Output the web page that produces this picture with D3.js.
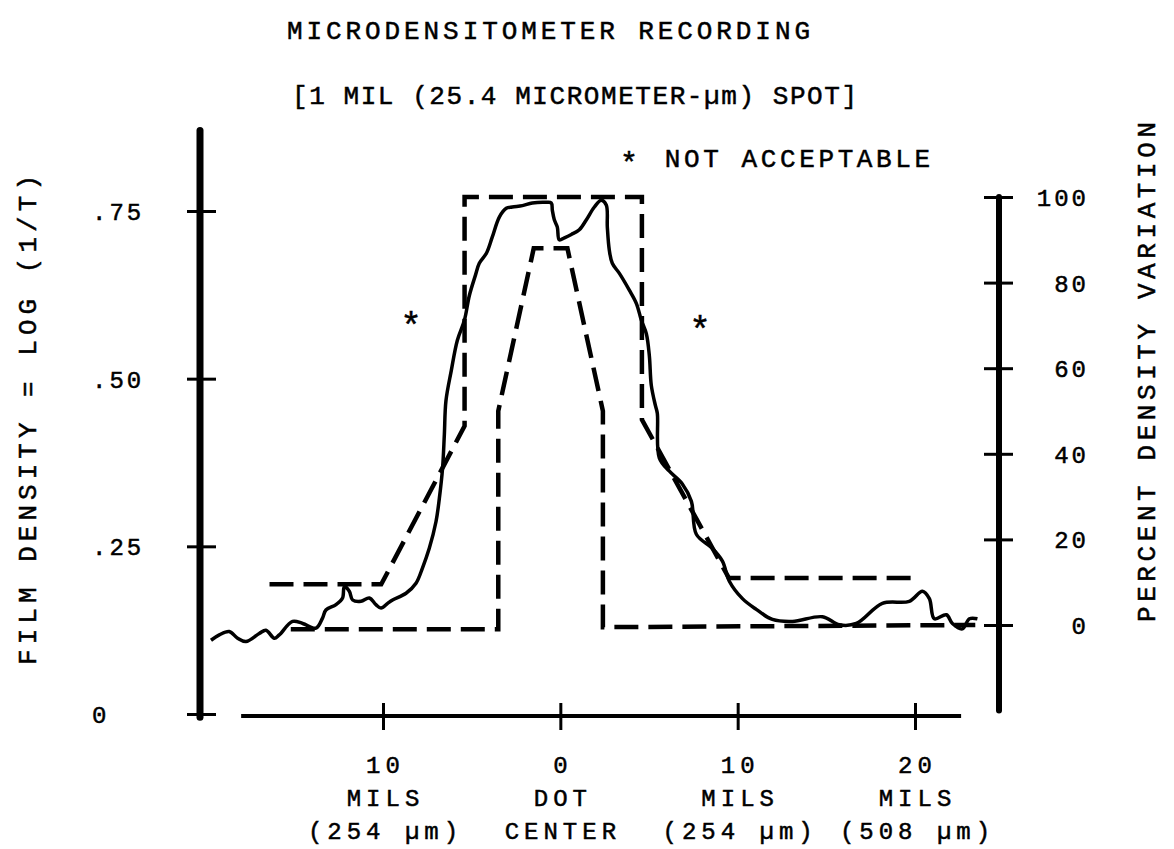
<!DOCTYPE html>
<html>
<head>
<meta charset="utf-8">
<script src="https://cdn.jsdelivr.net/npm/d3@7"></script>
<style>
body { margin: 0; background: #fff; }
text { font-family: "Liberation Mono", "DejaVu Sans Mono", monospace; fill: #000; stroke: #000; stroke-width: 0.5px; }
</style>
</head>
<body>
<script>
(function() {

    // microdensitometer trace: distance from dot center (mils, left negative) and film density
    var traceMils = [-19.7, -19.23, -18.67, -18.2, -17.73, -16.98, -16.6, -16.13, -15.85, -15.1, -14.53, -13.78,
        -13.41, -13.22, -12.65, -12.28, -12.18, -11.9, -11.71, -11.24, -10.77, -10.4, -10.11, -9.74, -9.46,
        -8.7, -8.14, -7.77, -7.39, -7.01, -6.82, -6.64, -6.54, -6.45, -6.15, -5.81, -5.41, -5.13, -4.79,
        -4.57, -4.17, -3.84, -3.44, -3.05, -2.71, -2.14, -1.58, -0.79, -0.51, -0.45, -0.34, -0.17, -0.06,
        0.23, 0.62, 1.07, 1.47, 1.92, 2.31, 2.59, 2.65, 2.76, 2.93, 3.33, 3.89, 4.29, 4.57, 4.85, 5.02,
        5.13, 5.36, 5.47, 5.58, 6.15, 6.88, 7.39, 7.67, 8.57, 9.14, 9.53, 10.27, 11.05, 11.96, 13.09,
        14.78, 15.74, 16.69, 18.16, 19.68, 20.42, 20.81, 21.09, 21.77, 22.11, 22.67, 23.07, 23.52];
    var traceDensity = [0.110, 0.118, 0.123, 0.113, 0.108, 0.120, 0.125, 0.113, 0.118, 0.138, 0.135, 0.128,
        0.143, 0.155, 0.163, 0.173, 0.190, 0.183, 0.170, 0.168, 0.173, 0.163, 0.158, 0.165, 0.170,
        0.180, 0.195, 0.218, 0.247, 0.287, 0.322, 0.367, 0.417, 0.467, 0.512, 0.557, 0.587, 0.624, 0.654,
        0.672, 0.687, 0.711, 0.741, 0.754, 0.756, 0.758, 0.762, 0.763, 0.762, 0.751, 0.737, 0.726, 0.707,
        0.710, 0.715, 0.722, 0.737, 0.756, 0.766, 0.759, 0.726, 0.692, 0.672, 0.657, 0.632, 0.612, 0.587, 0.567, 0.534,
        0.490, 0.460, 0.448, 0.382, 0.362, 0.343, 0.317, 0.268, 0.247, 0.228, 0.198, 0.172, 0.156, 0.141, 0.138,
        0.145, 0.133, 0.135, 0.165, 0.168, 0.183, 0.172, 0.142, 0.148, 0.135, 0.127, 0.142, 0.142];

    // dashed tolerance outlines, percent density variation
    var outerMils = [-16.4, -10.1, -5.4, -5.4, 4.6, 4.6, 9.5, 20.1];
    var outerPct = [9.5, 9.5, 46.5, 100, 100, 48, 11, 11];
    var innerMils = [-15.2, -3.5, -3.5, -1.5, 0.4, 2.4, 2.4, 23.4];
    var innerPct = [-1, -1, 50, 88, 88, 50, -0.5, 0];

    var densityTicks = [0, 0.25, 0.50, 0.75];
    var densityLabels = ['0', '.25', '.50', '.75'];
    var pctTicks = [0, 20, 40, 60, 80, 100];
    var milTicks = [-10, 0, 10, 20];
    var milLabels = [['10', 'MILS', '(254 \u00b5m)'], ['0', 'DOT', 'CENTER'],
        ['10', 'MILS', '(254 \u00b5m)'], ['20', 'MILS', '(508 \u00b5m)']];

    var svg = d3.select('body').append('svg')
        .attr('width', 1174)
        .attr('height', 849);

    svg.append('rect').attr('width', 1174).attr('height', 849).attr('fill', '#fff');

    var x = d3.scaleLinear().domain([-10, 20]).range([383, 915]);
    var yL = d3.scaleLinear().domain([0, 0.75]).range([714, 211]);
    var yR = d3.scaleLinear().domain([0, 100]).range([625, 197]);

    // titles
    svg.append('text').attr('x', 287).attr('y', 39).attr('font-size', 26)
        .attr('textLength', 523).attr('lengthAdjust', 'spacing')
        .text('MICRODENSITOMETER RECORDING');
    svg.append('text').attr('x', 292).attr('y', 104).attr('font-size', 26)
        .attr('textLength', 565).attr('lengthAdjust', 'spacing')
        .text('[1 MIL (25.4 MICROMETER-\u00b5m) SPOT]');
    var na = svg.append('text').attr('x', 620).attr('y', 167).attr('font-size', 26)
        .attr('letter-spacing', 3.6);
    na.append('tspan').attr('font-size', 30).attr('dy', 6).text('*');
    na.append('tspan').attr('dy', -6).attr('dx', 4).text(' NOT ACCEPTABLE');

    // left axis
    var gL = svg.append('g').attr('transform', 'translate(200,0)')
        .call(d3.axisLeft(yL).tickValues(densityTicks)
            .tickFormat(function(d, i) { return densityLabels[i]; }));
    gL.select('.domain').remove();
    gL.append('line').attr('y1', yL(-0.005)).attr('y2', yL(0.87))
        .attr('stroke', '#000').attr('stroke-width', 7).attr('stroke-linecap', 'round');
    gL.selectAll('.tick line').attr('x1', -13).attr('x2', 16).attr('stroke-width', 3);
    gL.selectAll('.tick text').attr('x', -108).attr('text-anchor', 'start')
        .attr('font-size', 24).attr('font-family', null).attr('letter-spacing', 3).attr('dy', '0.35em');

    // right axis
    var gR = svg.append('g').attr('transform', 'translate(999,0)')
        .call(d3.axisRight(yR).tickValues(pctTicks));
    gR.select('.domain').remove();
    gR.append('line').attr('y1', yR(100)).attr('y2', yR(-20))
        .attr('stroke', '#000').attr('stroke-width', 6).attr('stroke-linecap', 'round');
    gR.selectAll('.tick line').attr('x1', -15).attr('x2', 14).attr('stroke-width', 3);
    gR.selectAll('.tick text').attr('x', 90).attr('text-anchor', 'end')
        .attr('font-size', 24).attr('font-family', null).attr('letter-spacing', 3).attr('dy', '0.35em');

    // bottom axis
    var gB = svg.append('g').attr('transform', 'translate(0,716)')
        .call(d3.axisBottom(x).tickValues(milTicks).tickFormat(''));
    gB.select('.domain').remove();
    gB.append('line').attr('x1', x(-18.0)).attr('x2', x(22.6))
        .attr('stroke', '#000').attr('stroke-width', 4);
    gB.selectAll('.tick line').attr('y1', -13).attr('y2', 14).attr('stroke-width', 3);
    gB.selectAll('.tick').each(function(d, i) {
        var t = d3.select(this).append('text').attr('text-anchor', 'middle')
            .attr('font-size', 24).attr('font-family', null).attr('letter-spacing', 5).attr('fill', '#000');
        milLabels[i].forEach(function(s, k) {
            t.append('tspan').attr('x', 2).attr('y', 57 + k * 33).text(s);
        });
    });

    // axis titles
    svg.append('text').attr('transform', 'translate(36,420) rotate(-90)')
        .attr('text-anchor', 'middle').attr('font-size', 26)
        .attr('textLength', 490).attr('lengthAdjust', 'spacing')
        .text('FILM DENSITY = LOG (1/T)');
    svg.append('text').attr('transform', 'translate(1155,372) rotate(-90)')
        .attr('text-anchor', 'middle').attr('font-size', 26)
        .attr('textLength', 500).attr('lengthAdjust', 'spacing')
        .text('PERCENT DENSITY VARIATION');

    // "not acceptable" markers
    svg.append('text').attr('x', 411).attr('y', 338).attr('font-size', 36)
        .attr('text-anchor', 'middle').text('*');
    svg.append('text').attr('x', 700).attr('y', 342).attr('font-size', 36)
        .attr('text-anchor', 'middle').text('*');

    // dashed outlines
    var dashLine = d3.line()
        .x(function(d) { return x(d[0]); })
        .y(function(d) { return yR(d[1]); });
    svg.append('path').datum(d3.zip(outerMils, outerPct))
        .attr('d', dashLine).attr('fill', 'none').attr('stroke', '#000')
        .attr('stroke-width', 4.5).attr('stroke-dasharray', '24,10');
    svg.append('path').datum(d3.zip(innerMils, innerPct))
        .attr('d', dashLine).attr('fill', 'none').attr('stroke', '#000')
        .attr('stroke-width', 4.5).attr('stroke-dasharray', '24,10');

    // recorded trace
    var traceLine = d3.line()
        .x(function(d) { return x(d[0]); })
        .y(function(d) { return yL(d[1]); })
        .curve(d3.curveCatmullRom);
    svg.append('path').datum(d3.zip(traceMils, traceDensity))
        .attr('d', traceLine).attr('fill', 'none').attr('stroke', '#000')
        .attr('stroke-width', 3.5).attr('stroke-linejoin', 'round');

})();
</script>
</body>
</html>
